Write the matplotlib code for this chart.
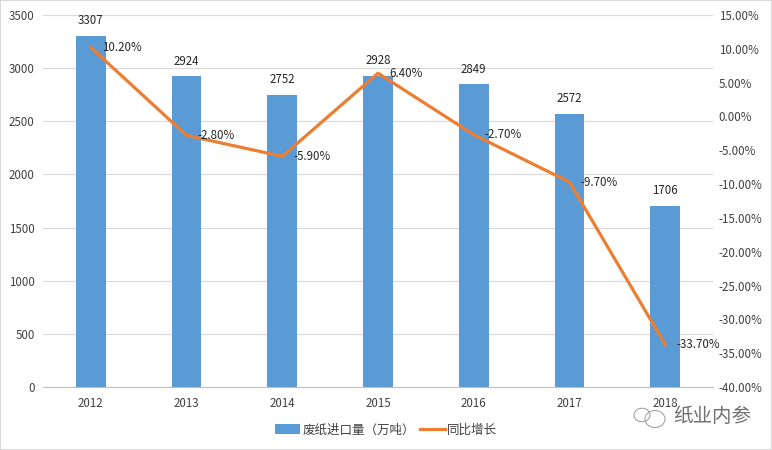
import matplotlib
matplotlib.use("Agg")
import matplotlib.pyplot as plt
from matplotlib.patches import Ellipse
from matplotlib.ticker import FuncFormatter

plt.rcParams['font.family'] = ['Noto Sans CJK SC', 'DejaVu Sans']

years = ['2012', '2013', '2014', '2015', '2016', '2017', '2018']
imports = [3307, 2924, 2752, 2928, 2849, 2572, 1706]
growth = [10.2, -2.8, -5.9, 6.4, -2.7, -9.7, -33.7]

W, H = 772, 450
fig = plt.figure(figsize=(W / 100, H / 100), dpi=100)
ax = fig.add_axes([43 / W, 1 - 387 / H, (713 - 43) / W, (387 - 15) / H])
ax2 = ax.twinx()

x = list(range(len(years)))
bars = ax.bar(x, imports, width=0.31, color='#5B9BD5', label='废纸进口量（万吨）', zorder=2)
line, = ax2.plot(x, growth, color='#ED7D31', lw=2.3, label='同比增长', zorder=3)

ax.set_xlim(-0.5, 6.5)
ax.set_ylim(0, 3500)
ax.set_yticks(range(0, 3501, 500))
ax.set_xticks(x, years)
ax.grid(axis='y', color='#D9D9D9', lw=0.8, zorder=0)
ax.set_axisbelow(True)

ax2.set_ylim(-40, 15)
ax2.set_yticks(range(-40, 16, 5))
ax2.yaxis.set_major_formatter(FuncFormatter(lambda v, p: f'{v:.2f}%'))

for a in (ax, ax2):
    for s in a.spines.values():
        s.set_visible(False)
    a.tick_params(length=0, labelsize=8.3, labelcolor='#404040')
ax.spines['bottom'].set_visible(True)
ax.spines['bottom'].set_color('#BFBFBF')
ax.tick_params(axis='x', pad=7)
ax.tick_params(axis='y', pad=6)
ax2.tick_params(axis='y', pad=4)

for i, v in zip(x, imports):
    ax.annotate(str(v), (i, v), xytext=(0, 6), textcoords='offset points',
                ha='center', va='bottom', fontsize=8.3, color='#262626')
for i, v in zip(x, growth):
    ax2.annotate(f'{v:.2f}%', (i, v), xytext=(8, 0), textcoords='offset points',
                 ha='left', va='center', fontsize=8.3, color='#262626', zorder=5)

fig.legend(handles=[bars, line], loc='center', bbox_to_anchor=(386 / W, 1 - 430 / H),
           ncol=2, frameon=False, fontsize=9, labelcolor='#404040',
           handlelength=2.0, handleheight=0.8, handletextpad=0.2, columnspacing=0.4)

# watermark
fig.text(673 / W, 1 - 417 / H, '纸业内参', fontsize=14, color='#707070', va='center')
for cx, cy, d in [(642, 415, 16), (655, 419, 20)]:
    fig.add_artist(Ellipse((cx / W, 1 - cy / H), d / W, d * 0.85 / H, fc='none', ec='#999999',
                           lw=0.7, transform=fig.transFigure))

fig.add_artist(plt.Rectangle((0, 0), 1, 1, fill=False, ec='#D9D9D9', lw=1.5, transform=fig.transFigure))

fig.savefig('out.png', dpi=100)
